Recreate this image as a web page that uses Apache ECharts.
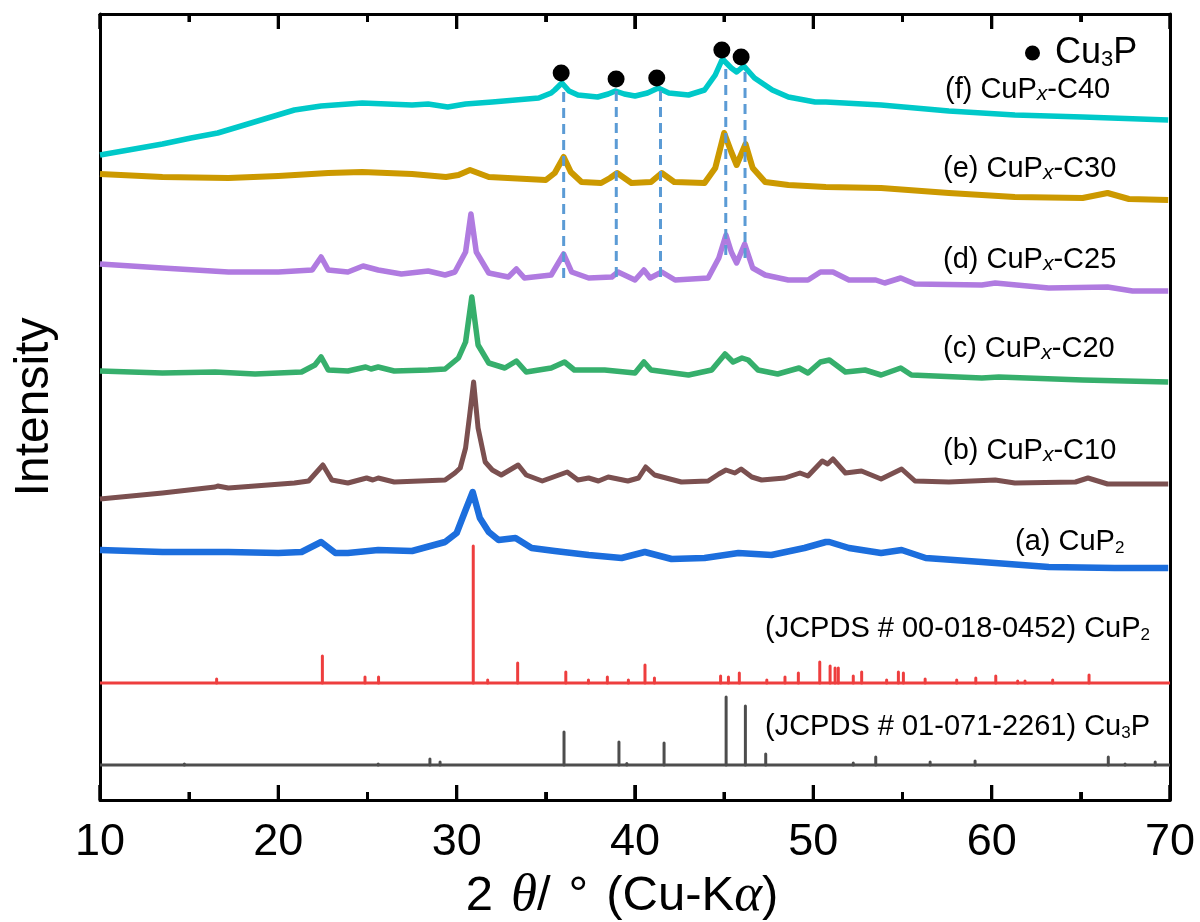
<!DOCTYPE html>
<html>
<head>
<meta charset="utf-8">
<title>XRD patterns of CuPx-C composites</title>
<script src="https://cdn.jsdelivr.net/npm/echarts@6/dist/echarts.min.js"></script>
<style>
  html, body { margin: 0; padding: 0; background: #ffffff; }
  #chart { width: 1200px; height: 922px; }
</style>
</head>
<body>
<div id="chart"></div>
<script>
// 2θ (degrees) and intensity (a.u., patterns offset vertically)

// (f) CuPx-C40
const c40X = [10.0, 11.6, 13.5, 15.1, 16.6, 18.1, 19.4, 20.9, 22.4, 24.7, 27.5, 28.4, 29.5, 30.5, 32.0, 34.6, 35.3, 35.5, 35.9, 36.3, 36.8, 37.9, 38.5, 38.9, 39.4, 40.0, 40.7, 41.3, 41.9, 43.0, 43.9, 44.5, 44.9, 45.4, 45.7, 46.1, 46.7, 47.7, 48.6, 50.1, 50.7, 53.8, 57.6, 61.3, 65.1, 69.9];
const c40Y = [645, 650, 656, 662, 667, 675, 682, 690, 694, 697, 695, 696, 693, 696, 698, 702, 707, 710, 717, 709, 705, 703, 706, 709, 706, 704, 707, 712, 707, 705, 710, 725, 741, 732, 728, 734, 722, 710, 703, 698, 698, 695, 689, 685, 683, 680];

// (e) CuPx-C30
const c30X = [10.0, 13.5, 17.2, 20.0, 22.8, 24.7, 27.5, 29.4, 30.1, 30.75, 31.8, 35.0, 35.5, 36.0, 36.4, 37.0, 38.1, 38.6, 39.0, 39.8, 40.9, 41.5, 42.2, 43.9, 44.5, 45.0, 45.4, 45.7, 46.2, 46.6, 47.3, 48.6, 50.7, 53.8, 57.6, 61.3, 65.1, 66.5, 67.7, 69.9];
const c30Y = [626, 623, 622, 624, 627, 628, 626, 623, 625, 630, 623, 620, 627, 643, 628, 618, 617, 622, 627, 617, 618, 627, 618, 617, 632, 667, 648, 635, 656, 632, 618, 615, 613, 612, 607, 603, 602, 607, 601, 600];

// (d) CuPx-C25
const c25X = [10.0, 13.5, 17.2, 20.0, 21.9, 22.4, 22.8, 23.9, 24.75, 25.6, 26.9, 28.4, 29.35, 29.9, 30.5, 30.8, 31.1, 31.8, 32.9, 33.35, 33.8, 35.3, 36.0, 36.45, 37.4, 38.7, 39.05, 40.0, 40.5, 40.85, 41.5, 42.25, 44.1, 44.7, 45.1, 45.4, 45.7, 46.15, 46.6, 47.3, 48.6, 49.7, 50.4, 51.1, 52.0, 53.5, 54.0, 54.9, 55.7, 59.45, 60.2, 63.2, 66.5, 67.9, 69.9];
const c25Y = [536, 532, 528, 528, 530, 543, 530, 528, 534, 530, 526, 529, 525, 528, 548, 586, 548, 527, 523, 531, 522, 525, 546, 528, 522, 523, 528, 520, 530, 522, 528, 520, 522, 542, 565, 548, 537, 556, 532, 525, 520, 520, 528, 528, 520, 520, 517, 522, 516, 515, 517, 512, 513, 509, 509];

// (c) CuPx-C20
const c20X = [10.0, 13.5, 16.45, 18.7, 21.3, 22.05, 22.4, 22.8, 23.9, 24.9, 25.2, 25.6, 26.5, 28.4, 29.35, 30.1, 30.5, 30.85, 31.2, 31.8, 32.7, 33.35, 33.9, 35.3, 36.05, 36.6, 38.3, 40.0, 40.5, 40.9, 43.0, 44.3, 45.05, 45.5, 46.0, 46.35, 46.9, 48.0, 49.2, 49.7, 50.4, 50.9, 51.8, 52.9, 53.8, 54.9, 55.5, 59.45, 60.4, 65.1, 69.9];
const c20Y = [429, 427, 428, 426, 428, 435, 443, 430, 429, 433, 431, 433, 429, 430, 431, 442, 458, 503, 455, 437, 432, 439, 428, 432, 438, 430, 430, 427, 438, 430, 425, 430, 446, 438, 442, 440, 430, 426, 432, 427, 438, 440, 428, 430, 425, 432, 425, 422, 423, 420, 418];

// (b) CuPx-C10
const c10X = [10.0, 13.5, 16.45, 16.6, 17.2, 20.9, 21.7, 22.5, 23.0, 23.9, 24.95, 25.3, 25.6, 26.5, 29.35, 29.9, 30.2, 30.5, 30.75, 30.95, 31.2, 31.6, 32.0, 32.5, 33.45, 33.9, 34.8, 36.2, 36.8, 37.4, 37.95, 38.5, 39.6, 40.2, 40.6, 41.1, 42.6, 44.1, 44.7, 45.1, 45.6, 45.95, 46.55, 47.1, 48.4, 49.25, 49.7, 50.5, 50.8, 51.1, 51.8, 52.7, 53.8, 54.95, 55.7, 57.6, 60.2, 61.3, 64.7, 65.4, 66.5, 69.9];
const c10Y = [301, 307, 313, 314, 312, 317, 319, 335, 320, 317, 322, 320, 322, 318, 320, 327, 332, 352, 388, 418, 372, 338, 330, 325, 335, 325, 319, 328, 320, 322, 319, 323, 319, 322, 333, 325, 318, 319, 326, 330, 327, 331, 323, 320, 322, 327, 324, 339, 336, 341, 327, 329, 321, 331, 319, 318, 320, 317, 318, 322, 316, 316];

// (a) CuP2
const cup2X = [10.0, 13.5, 17.2, 20.0, 21.3, 22.4, 23.2, 23.9, 25.6, 27.5, 29.35, 30.0, 30.5, 30.9, 31.3, 31.8, 32.35, 33.3, 34.2, 35.5, 37.4, 39.25, 40.55, 42.05, 43.9, 45.8, 47.65, 49.5, 50.7, 50.9, 52.0, 53.8, 54.95, 56.3, 59.45, 63.2, 66.9, 69.9];
const cup2Y = [250, 248, 248, 247, 248, 258, 247, 247, 250, 249, 258, 267, 290, 308, 282, 268, 260, 262, 252, 249, 245, 242, 248, 241, 242, 247, 245, 252, 258, 258, 252, 247, 250, 242, 238, 233, 232, 232];

// Reference pattern JCPDS 00-018-0452 (CuP2): line positions and heights
const refCuP2X = [16.54, 22.47, 24.86, 25.62, 30.93, 31.74, 33.42, 36.12, 37.39, 38.45, 39.63, 40.56, 41.09, 44.8, 45.24, 45.85, 47.39, 48.41, 49.16, 50.36, 50.94, 51.22, 51.4, 52.24, 52.71, 54.11, 54.77, 55.05, 56.27, 58.04, 59.11, 60.23, 61.46, 61.87, 63.42, 65.46];
const refCuP2H = [4, 27, 6, 6, 137, 3, 20, 11, 3, 6, 3, 18, 5, 7, 6, 10, 3, 6, 10, 21, 17, 15, 15, 7, 11, 3, 11, 10, 4, 3, 5, 7, 2, 2, 3, 8];
const refCuP2Base = 117;

// Reference pattern JCPDS 01-071-2261 (Cu3P)
const refCu3PX = [14.73, 25.6, 28.5, 29.07, 36.02, 39.1, 39.54, 41.63, 45.11, 46.19, 47.33, 52.24, 53.5, 56.55, 59.07, 66.54, 67.48, 69.17];
const refCu3PH = [1, 1, 6, 3, 33, 23, 1.5, 22, 68, 59, 11, 2, 8, 3, 4, 8, 1, 3];
const refCu3PBase = 35;

// Cu3P reflections: guide lines and peak markers
const guideX = [36.0, 38.95, 41.43, 45.09, 46.17];
const guideTop = [712, 709, 712, 737, 732];
const guideBottom = [522, 523, 523, 545, 542];
const markX = [35.86, 38.94, 41.22, 44.87, 45.95];
const markY = [727, 721, 722, 750, 743];

// Axis ticks
const xTicks = [10, 20, 30, 40, 50, 60, 70];
const xMinorTicks = [15, 25, 35, 45, 55, 65];

// Text labels
const sampleLabels = [
  '(f) CuP{x|x}-C40',
  '(e) CuP{x|x}-C30',
  '(d) CuP{x|x}-C25',
  '(c) CuP{x|x}-C20',
  '(b) CuP{x|x}-C10',
  '(a) CuP{s|2}',
  '(JCPDS # 00-018-0452) CuP{s|2}',
  '(JCPDS # 01-071-2261) Cu{s|3}P'
];

const FONT = '"Liberation Sans", Arial, Helvetica, sans-serif';
const SERIF = '"Liberation Serif", "DejaVu Serif", serif';
const Y_MIN = 0, Y_MAX = 786;          // intensity axis range
const MAJOR_TICK = 15, MINOR_TICK = 8;  // inward tick lengths, px
const zip = (xs, ys) => xs.map((x, i) => [x, ys[i]]);

const curves = [
  { name: '(f) CuPx-C40', x: c40X, y: c40Y, color: '#00C9C9', width: 5.5 },
  { name: '(e) CuPx-C30', x: c30X, y: c30Y, color: '#CC9900', width: 6 },
  { name: '(d) CuPx-C25', x: c25X, y: c25Y, color: '#B07BE0', width: 5.5 },
  { name: '(c) CuPx-C20', x: c20X, y: c20Y, color: '#36AF6C', width: 5.5 },
  { name: '(b) CuPx-C10', x: c10X, y: c10Y, color: '#7B5050', width: 5 },
  { name: '(a) CuP2',     x: cup2X, y: cup2Y, color: '#1C6EDD', width: 6.5 }
];

function lineSeries(c) {
  return {
    type: 'line', name: c.name, data: zip(c.x, c.y),
    showSymbol: false, symbol: 'none', smooth: false, z: 2,
    lineStyle: { color: c.color, width: c.width, join: 'round' },
    emphasis: { disabled: true }
  };
}

// Vertical segments [x, yFrom, yTo] drawn through the axes
function segmentSeries(name, rows, style, z) {
  return {
    type: 'custom', name: name, z: z, silent: true, clip: false,
    data: rows,
    encode: { x: 0, y: [1, 2] },
    renderItem: function (params, api) {
      const a = api.coord([api.value(0), api.value(1)]);
      const b = api.coord([api.value(0), api.value(2)]);
      return {
        type: 'line',
        shape: { x1: a[0], y1: a[1], x2: b[0], y2: b[1] },
        style: style
      };
    }
  };
}

function stickSeries(name, xs, hs, base, color) {
  return [
    {
      type: 'line', name: name + ' base', data: [[10, base], [70, base]],
      showSymbol: false, symbol: 'none', z: 2,
      lineStyle: { color: color, width: 3 }, emphasis: { disabled: true }
    },
    segmentSeries(name, xs.map((x, i) => [x, base, base + hs[i]]),
      { stroke: color, lineWidth: 3, lineCap: 'round' }, 2)
  ];
}

// Inward frame ticks as vertical segments in axis units (1 unit = 1 px)
const tickRows = [].concat(
  xTicks.map(v => [v, Y_MIN, Y_MIN + MAJOR_TICK]),
  xTicks.map(v => [v, Y_MAX, Y_MAX - MAJOR_TICK]),
  xMinorTicks.map(v => [v, Y_MIN, Y_MIN + MINOR_TICK]),
  xMinorTicks.map(v => [v, Y_MAX, Y_MAX - MINOR_TICK])
);

const guideRows = guideX.map((x, i) => [x, guideBottom[i], guideTop[i]]);

const markerSeries = {
  type: 'scatter', name: 'Cu3P', data: zip(markX, markY), z: 4,
  symbol: 'circle', symbolSize: 17,
  itemStyle: { color: '#000000', opacity: 1 }, emphasis: { disabled: true }
};

const labelRich = {
  x: { fontFamily: FONT, fontStyle: 'italic', fontSize: 21, lineHeight: 12, verticalAlign: 'bottom', fill: '#000' },
  s: { fontFamily: FONT, fontSize: 17, lineHeight: 10, verticalAlign: 'bottom', fill: '#000' }
};

// Label anchors (left, top)
const labelPos = [
  [945, 75], [943, 154], [943, 245], [943, 334], [943, 436], [1015, 527], [765, 614], [765, 712]
];

const labelGraphics = sampleLabels.map((t, i) => ({
  type: 'text', x: labelPos[i][0], y: labelPos[i][1], z: 10,
  style: {
    text: t, rich: labelRich, fill: '#000',
    fontFamily: FONT, fontSize: 29, lineHeight: 30
  }
}));

const BLACK3 = { color: '#000', width: 3 };

const option = {
  backgroundColor: '#ffffff',
  animation: false,
  textStyle: { fontFamily: FONT },
  grid: { left: 100, right: 30, top: 14, bottom: 122, containLabel: false, outerBoundsMode: 'none' },
  legend: {
    data: [{ name: 'Cu3P', icon: 'circle' }],
    left: 1025, top: 35, padding: 0,
    itemWidth: 15, itemHeight: 15,
    formatter: 'Cu{s|3}P',
    selectedMode: false,
    textStyle: {
      fontFamily: FONT, fontSize: 36, lineHeight: 36, color: '#000', padding: [0, 0, 0, 10],
      rich: { s: { fontFamily: FONT, fontSize: 22, lineHeight: 12, verticalAlign: 'bottom', color: '#000' } }
    }
  },
  xAxis: [
    {
      type: 'value', min: 10, max: 70, interval: 10, position: 'bottom',
      splitLine: { show: false },
      axisLine: { show: true, onZero: false, lineStyle: BLACK3 },
      axisTick: { show: true, inside: true, length: MAJOR_TICK, lineStyle: BLACK3 },
      minorTick: { show: true, splitNumber: 2, length: MINOR_TICK, lineStyle: BLACK3 },
      axisLabel: {
        show: true, fontSize: 45, color: '#000', margin: 20, fontFamily: FONT,
        formatter: v => (xTicks.indexOf(v) >= 0 ? String(v) : '')
      },
      name: '2{sp| }{i|θ}/{sp| }°{sp| }(Cu-K{i|α})',
      nameLocation: 'middle', nameGap: 66,
      nameTextStyle: {
        fontSize: 49, color: '#000', fontFamily: FONT, padding: [0, 26, 0, 0],
        rich: {
          i: { fontFamily: SERIF, fontStyle: 'italic', fontSize: 53, color: '#000' },
          sp: { width: 18 }
        }
      }
    },
    {
      type: 'value', min: 10, max: 70, interval: 10, position: 'top',
      splitLine: { show: false },
      axisLine: { show: true, onZero: false, lineStyle: BLACK3 },
      axisTick: { show: true, inside: true, length: MAJOR_TICK, lineStyle: BLACK3 },
      minorTick: { show: true, splitNumber: 2, length: MINOR_TICK, lineStyle: BLACK3 },
      axisLabel: { show: false }
    }
  ],
  yAxis: [
    {
      type: 'value', min: Y_MIN, max: Y_MAX, position: 'left',
      axisLine: { show: true, onZero: false, lineStyle: BLACK3 },
      axisTick: { show: false }, axisLabel: { show: false }, splitLine: { show: false },
      name: 'Intensity', nameLocation: 'middle', nameGap: 41,
      nameTextStyle: { fontSize: 48, color: '#000', fontFamily: FONT }
    },
    {
      type: 'value', min: Y_MIN, max: Y_MAX, position: 'right',
      axisLine: { show: true, onZero: false, lineStyle: BLACK3 },
      axisTick: { show: false }, axisLabel: { show: false }, splitLine: { show: false }
    }
  ],
  series: [].concat(
    stickSeries('JCPDS 00-018-0452', refCuP2X, refCuP2H, refCuP2Base, '#EE3E3E'),
    stickSeries('JCPDS 01-071-2261', refCu3PX, refCu3PH, refCu3PBase, '#4D4D4D'),
    curves.map(lineSeries),
    [
      segmentSeries('guides', guideRows, { stroke: '#5B9BD5', lineWidth: 3, lineDash: [10, 6] }, 3),
      markerSeries,
      segmentSeries('frame ticks', tickRows, { stroke: '#000000', lineWidth: 3 }, 6)
    ]
  ),
  graphic: labelGraphics
};

const chart = echarts.init(document.getElementById('chart'));
chart.setOption(option);

// Frame ticks as filled bars, positioned from the grid's x scale
const tickGraphics = [];
[[xTicks, MAJOR_TICK], [xMinorTicks, MINOR_TICK]].forEach(function (pair) {
  pair[0].forEach(function (v) {
    const b = chart.convertToPixel({ gridIndex: 0 }, [v, Y_MIN]);
    const t = chart.convertToPixel({ gridIndex: 0 }, [v, Y_MAX]);
    if (!b || !t) return;
    tickGraphics.push(
      { type: 'rect', z: 60, silent: true, shape: { x: b[0] - 1.5, y: b[1] - pair[1], width: 3, height: pair[1] }, style: { fill: '#000000' } },
      { type: 'rect', z: 60, silent: true, shape: { x: t[0] - 1.5, y: t[1], width: 3, height: pair[1] }, style: { fill: '#000000' } }
    );
  });
});
chart.setOption({ graphic: labelGraphics.concat(tickGraphics) });
</script>
</body>
</html>
